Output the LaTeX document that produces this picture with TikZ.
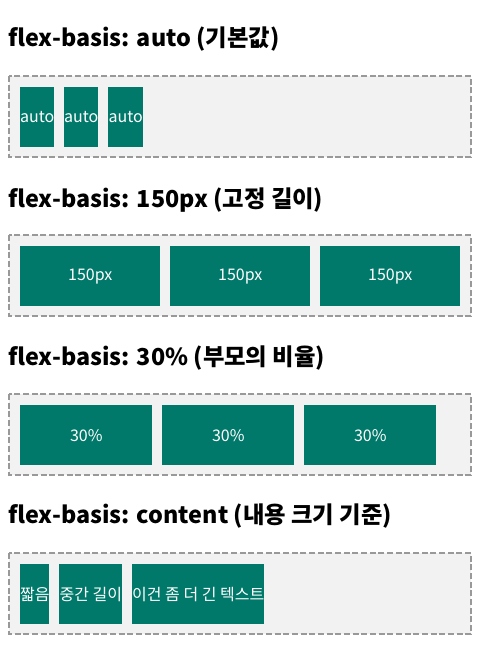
\documentclass[tikz,border=0pt]{standalone}
\usepackage{fontspec}
\setmainfont{Noto Sans CJK KR}
\definecolor{teal}{RGB}{0,121,107}
\definecolor{boxfill}{RGB}{242,242,242}
\definecolor{boxline}{RGB}{153,153,153}
\begin{document}
\begin{tikzpicture}[x=0.75pt,y=-0.75pt,
  title/.style={anchor=base west,inner sep=0pt,font=\fontsize{17.5pt}{19pt}\selectfont\bfseries},
  container/.style={draw=boxline,fill=boxfill,line width=1.5pt,dash pattern=on 4.5pt off 2pt},
  item/.style={fill=teal,text=white,inner sep=0pt,anchor=north west,minimum height=45pt,font=\fontsize{12pt}{14pt}\selectfont}]
\useasboundingbox (0,0) rectangle (480,656);
% section 1
\node[title] (t1) at (8,47) {flex-basis: auto (기본값)};
\draw[container] (9,76) rectangle (471,157);
\node[item,minimum width=25.5pt] (a1) at (20,87) {\makebox[0pt]{auto}};
\node[item,minimum width=25.5pt] (a2) at (64,87) {\makebox[0pt]{auto}};
\node[item,minimum width=26.25pt] (a3) at (108,87) {\makebox[0pt]{auto}};
% section 2
\node[title] (t2) at (8,207) {flex-basis: 150px (고정 길이)};
\draw[container] (9,235) rectangle (471,316);
\node[item,minimum width=105pt] (b1) at (20,246) {150px};
\node[item,minimum width=105pt] (b2) at (170,246) {150px};
\node[item,minimum width=105pt] (b3) at (320,246) {150px};
% section 3
\node[title] (t3) at (8,365) {flex-basis: 30\% (부모의 비율)};
\draw[container] (9,394) rectangle (471,475);
\node[item,minimum width=99pt] (c1) at (20,405) {30\%};
\node[item,minimum width=99pt] (c2) at (162,405) {30\%};
\node[item,minimum width=99pt] (c3) at (304,405) {30\%};
% section 4
\node[title] (t4) at (8,523) {flex-basis: content (내용 크기 기준)};
\draw[container] (9,553) rectangle (471,634);
\node[item,minimum width=21.75pt] (d1) at (20,564) {\makebox[0pt]{짧음}};
\node[item,minimum width=47.25pt] (d2) at (59,564) {\makebox[0pt]{중간 길이}};
\node[item,minimum width=99pt] (d3) at (132,564) {\makebox[0pt]{이건 좀 더 긴 텍스트}};
\end{tikzpicture}
\end{document}
